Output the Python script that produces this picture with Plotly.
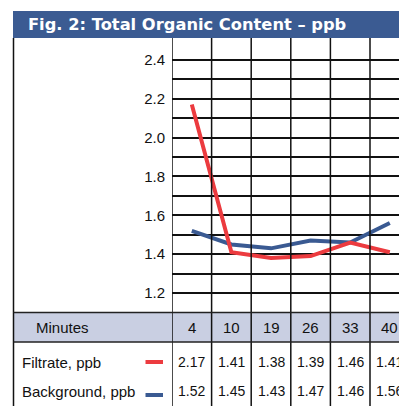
import plotly.graph_objects as go

# Sampling times (minutes) and measured total organic content (ppb)
minutes = ["4", "10", "19", "26", "33", "40"]
filtrate = [2.17, 1.41, 1.38, 1.39, 1.46, 1.41]
background = [1.52, 1.45, 1.43, 1.47, 1.46, 1.56]

# Horizontal grid every 0.1 ppb, labelled every 0.2
y_ticks = [1.2, 1.3, 1.4, 1.5, 1.6, 1.7, 1.8, 1.9, 2.0, 2.1, 2.2, 2.3, 2.4]
y_tick_labels = ["1.2", "", "1.4", "", "1.6", "", "1.8", "", "2.0", "", "2.2", "", "2.4"]

series_names = ["Filtrate, ppb", "Background, ppb"]

W, H = 399, 406
RED = "#EC3B3F"
BLUE = "#3A5A92"
HEAD_BG = "#C9CFE2"
FONT = "Liberation Sans, Arial, sans-serif"


def px(x):
    return x / W


def py(y):
    return 1 - y / H


fig = go.Figure()
fig.add_trace(go.Scatter(x=minutes, y=background, mode="lines",
                         line=dict(color=BLUE, width=4), name=series_names[1]))
fig.add_trace(go.Scatter(x=minutes, y=filtrate, mode="lines",
                         line=dict(color=RED, width=4), name=series_names[0]))

shapes = []
# title bar
shapes.append(dict(type="rect", xref="paper", yref="paper", x0=px(13), x1=1,
                   y0=py(38), y1=py(11), fillcolor="#3B5B92", line_width=0, layer="below"))
# header row fill
shapes.append(dict(type="rect", xref="paper", yref="paper", x0=px(14), x1=1,
                   y0=py(342), y1=py(312.5), fillcolor=HEAD_BG, line_width=0, layer="below"))
# column dividers through chart and table
for i in range(len(minutes)):
    shapes.append(dict(type="line", xref="x", yref="paper", x0=i - 0.5, x1=i - 0.5,
                       y0=0, y1=py(38), line=dict(color="#111111", width=1.5), layer="above"))
# outer left border
shapes.append(dict(type="line", xref="paper", yref="paper", x0=px(13.5), x1=px(13.5),
                   y0=0, y1=py(38), line=dict(color="#111111", width=1.5)))
# table top and header bottom rules
for yy in (312.5, 342):
    shapes.append(dict(type="line", xref="paper", yref="paper", x0=px(13.5), x1=1,
                       y0=py(yy), y1=py(yy), line=dict(color="#222222", width=1.5)))
# legend swatches
for yy, col in ((362, RED), (395, BLUE)):
    shapes.append(dict(type="line", xref="paper", yref="paper", x0=px(145.5), x1=px(163),
                       y0=py(yy), y1=py(yy), line=dict(color=col, width=4)))

ann = []
ann.append(dict(text="Fig. 2: Total Organic Content \u2013 ppb", xref="paper", yref="paper",
                x=px(26), y=py(24.5), xanchor="left", yanchor="middle", showarrow=False,
                font=dict(family="DejaVu Sans, Verdana, sans-serif", size=16.3, color="white",
                          weight="bold")))
ann.append(dict(text="Minutes", xref="paper", yref="paper", x=px(62.5), y=py(327),
                xanchor="center", yanchor="middle", showarrow=False,
                font=dict(family=FONT, size=15, color="#111111")))
for name, yy in zip(series_names, (362, 391)):
    ann.append(dict(text=name, xref="paper", yref="paper", x=px(20), y=py(yy),
                    xanchor="left", yanchor="middle", showarrow=False,
                    font=dict(family=FONT, size=15, color="#111111")))
for i, m in enumerate(minutes):
    ann.append(dict(text=m, xref="x", yref="paper", x=i, y=py(327),
                    xanchor="center", yanchor="middle", showarrow=False,
                    font=dict(family=FONT, size=15, color="#111111")))
    for vals, yy in ((filtrate, 362), (background, 391)):
        ann.append(dict(text=f"{vals[i]:.2f}", xref="x", yref="paper", x=i, y=py(yy),
                        xanchor="center", yanchor="middle", showarrow=False,
                        font=dict(family=FONT, size=14, color="#111111")))

col_px = 39.6
x_left = 172
fig.update_layout(
    width=W, height=H,
    margin=dict(l=0, r=0, t=0, b=0),
    paper_bgcolor="white", plot_bgcolor="white",
    showlegend=False,
    shapes=shapes, annotations=ann,
    xaxis=dict(type="category", domain=[px(x_left), 1],
               range=[-0.5, -0.5 + (W - x_left) / col_px],
               showgrid=False, showticklabels=False, zeroline=False, showline=False,
               fixedrange=True),
    yaxis=dict(domain=[py(312.5), py(38)], range=[1.1, 2.4 + 21.7 / 193.8],
               tickmode="array", tickvals=y_ticks, ticktext=y_tick_labels,
               showgrid=True, gridcolor="#111111", gridwidth=1.5,
               zeroline=False, showline=False, ticks="", ticklabelstandoff=6,
               tickfont=dict(family=FONT, size=15, color="#111111"), fixedrange=True),
)

fig.write_html("out.html")
